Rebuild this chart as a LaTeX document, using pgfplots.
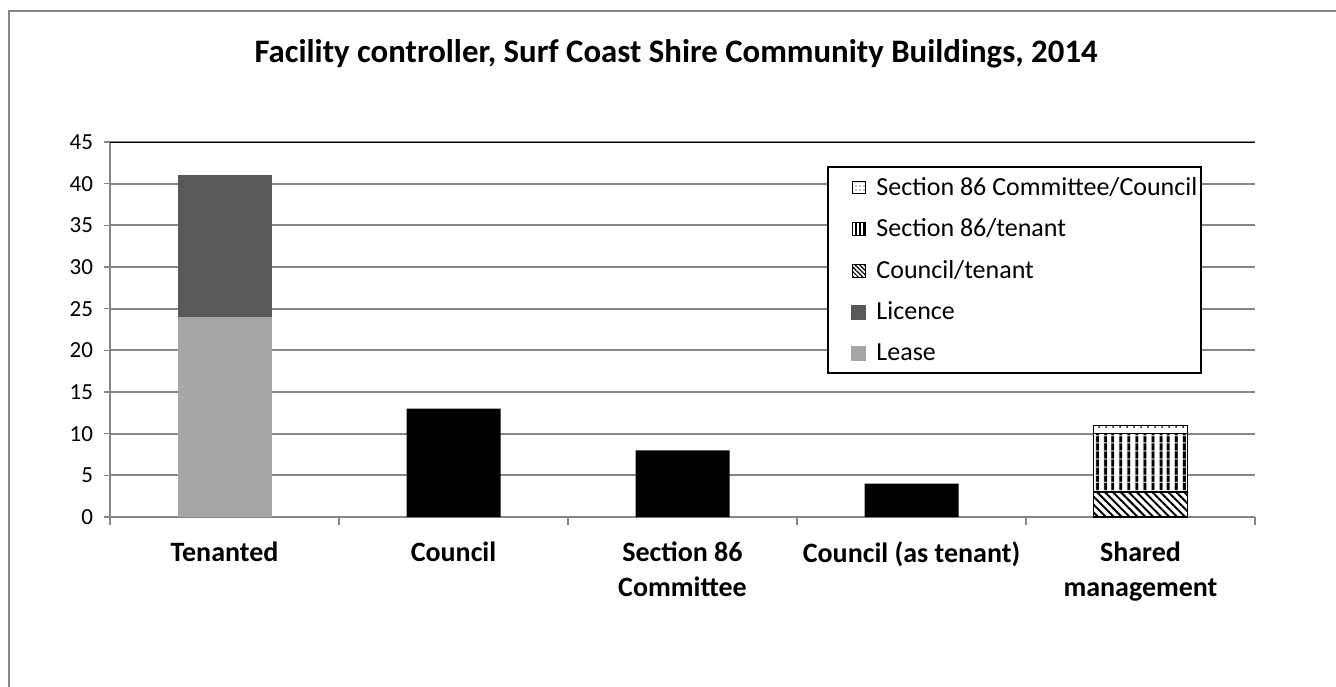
\documentclass[border=0pt]{standalone}
\usepackage{fontspec}
\setmainfont{Carlito}
\usepackage{pgfplots}
\pgfplotsset{compat=1.18}
\usetikzlibrary{patterns.meta}
\definecolor{lease}{HTML}{A6A6A6}
\definecolor{licence}{HTML}{595959}
\definecolor{gridgray}{HTML}{868686}
\begin{document}
\begin{tikzpicture}
\useasboundingbox (0,0) rectangle (668pt,343pt);
\draw[gridgray, line width=0.9pt] (4.5pt,-20pt) -- (4.5pt,337.5pt) -- (700pt,337.5pt);
\node[font=\bfseries\fontsize{16.4}{19}\selectfont] at (338pt,316pt) {Facility controller, Surf Coast Shire Community Buildings, 2014};
\begin{axis}[
  at={(55pt,84.5pt)}, anchor=south west,
  scale only axis, width=572.5pt, height=187.5pt,
  ybar stacked, bar width=47pt,
  xmin=-0.5, xmax=4.5, ymin=0, ymax=45,
  xtick={0,...,4},
  xticklabels={Tenanted, Council, {Section 86\\Committee}, Council (as tenant), {Shared\\management}},
  xticklabel style={align=center, font=\bfseries\fontsize{14}{17.5}\selectfont, yshift=-6pt},
  major x tick style={draw=none},
  minor xtick={-0.5,0.5,...,4.5},
  minor x tick style={gridgray, line width=0.8pt},
  minor tick length=4pt,
  major tick length=3pt,
  ytick={0,5,...,45},
  yticklabel style={font=\fontsize{11.5}{13}\selectfont, xshift=-2pt},
  /pgf/number format/assume math mode=true,
  axis x line*=bottom, axis y line*=left,
  axis line style={gridgray, line width=0.9pt, -},
  y tick style={gridgray, line width=0.8pt},
  tick align=outside,
  ymajorgrids, grid style={gridgray, line width=0.9pt},
  legend image code/.code={\path (-10pt,0pt) (11pt,0pt); \draw[#1] (1.5pt,-3.2pt) rectangle (7.9pt,3.2pt);},
  legend style={at={(0.954,0.936)}, anchor=north east, draw=black, line width=1pt,
    font=\fontsize{13}{15}\selectfont, row sep=6.3pt, inner xsep=0pt, inner ysep=3pt},
  legend cell align=left,
]
% stacking order: patterned parts, then Lease, Licence, single black bars
\addplot[forget plot, draw=black, line width=0.8pt, fill=white, postaction={pattern={Lines[angle=-45,distance=2.8pt,line width=1pt]}}]
  coordinates {(0,0) (1,0) (2,0) (3,0) (4,3)};
\addplot[forget plot, draw=black, line width=0.8pt, fill=white, postaction={pattern={Lines[angle=90,distance=4pt,line width=1.7pt]}}]
  coordinates {(0,0) (1,0) (2,0) (3,0) (4,7)};
\addplot[forget plot, draw=black, line width=0.8pt, fill=white, postaction={pattern={Dots[distance=3.5pt,radius=0.5pt]}}]
  coordinates {(0,0) (1,0) (2,0) (3,0) (4,1)};
\addplot[forget plot, draw=none, fill=lease]
  coordinates {(0,24) (1,0) (2,0) (3,0) (4,0)};
\addplot[forget plot, draw=none, fill=licence]
  coordinates {(0,17) (1,0) (2,0) (3,0) (4,0)};
\addplot[forget plot, draw=none, fill=black]
  coordinates {(0,0) (1,13) (2,8) (3,4) (4,0)};
\draw[black, line width=0.9pt] (rel axis cs:0,1) -- (rel axis cs:1,1);
% legend (top to bottom as in the reference)
\addlegendimage{draw=black, line width=0.5pt, fill=white, postaction={pattern={Dots[distance=2pt,radius=0.35pt]}}}
\addlegendentry{Section 86 Committee/Council}
\addlegendimage{draw=black, line width=0.5pt, fill=white, postaction={pattern={Lines[angle=90,distance=2pt,line width=0.9pt]}}}
\addlegendentry{Section 86/tenant}
\addlegendimage{draw=black, line width=0.5pt, fill=white, postaction={pattern={Lines[angle=-45,distance=1.6pt,line width=0.6pt]}}}
\addlegendentry{Council/tenant}
\addlegendimage{legend image code/.code={\path (-10pt,0pt) (11pt,0pt); \fill[licence] (1.5pt,-3.2pt) rectangle (7.9pt,3.2pt);}}
\addlegendentry{Licence}
\addlegendimage{legend image code/.code={\path (-10pt,0pt) (11pt,0pt); \fill[lease] (1.5pt,-3.2pt) rectangle (7.9pt,3.2pt);}}
\addlegendentry{Lease}
\end{axis}
\end{tikzpicture}
\end{document}
